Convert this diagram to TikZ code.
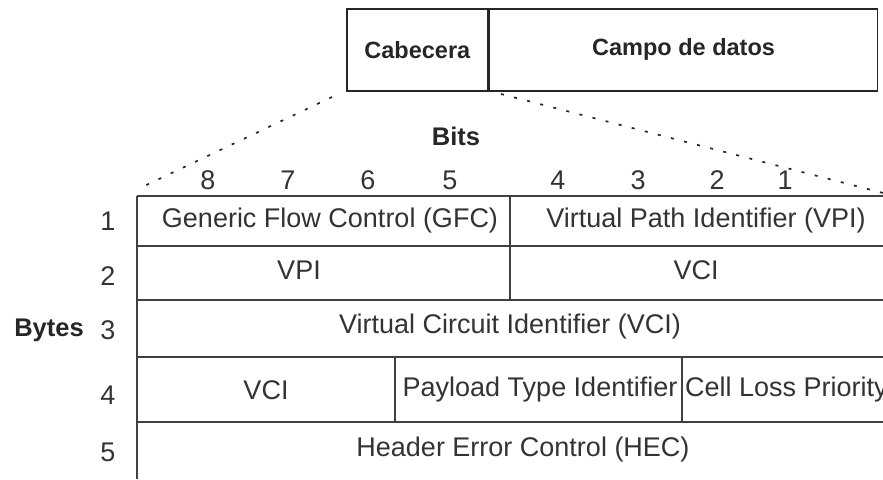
\documentclass[tikz,border=0pt]{standalone}
\usepackage{fontspec}
\setmainfont{Liberation Sans}
\newfontfamily\cellfont{Liberation Sans}
\begin{document}
\begin{tikzpicture}[x=1pt,y=-1pt,
  rule/.style={draw=black!75,line width=1.8pt},
  divider/.style={draw=black!75,line width=1.4pt},
  framebox/.style={draw=black!85,line width=1.7pt,inner sep=0pt,
    font=\bfseries\fontsize{23.5}{27}\selectfont,text=black!85},
  celltext/.style={font=\cellfont\fontsize{27}{32}\selectfont,text=black!80,inner sep=0pt},
  headtext/.style={font=\bfseries\fontsize{25.5}{30}\selectfont,text=black!85,inner sep=0pt},
  dots/.style={draw=black!85,line width=1.7pt,dash pattern=on 3pt off 10.5pt}]
\useasboundingbox (0,0) rectangle (883,479);

% cell frame: header and payload
\node[framebox,minimum width=141pt,minimum height=82pt,anchor=north west] (cab) at (346,8) {Cabecera};
\node[framebox,minimum width=388pt,minimum height=82pt,anchor=north west] (datos) at (cab.north east) {Campo de datos};

% zoom guides from the header to the table
\coordinate (zl0) at (332,97);
\coordinate (zl1) at (138,189);
\coordinate (zr0) at (501,94);
\coordinate (zr1) at (883,193);
\draw[dots] (zl0) -- (zl1);
\draw[dots] (zr0) -- (zr1);

% axis labels
\node[headtext] (bits) at (456,136) {Bits};
\node[headtext] (bytes) at (49,330) {Bytes};
\foreach \b/\x in {8/208,7/288,6/368,5/450,4/558,3/638,2/717,1/785}
  \node[celltext] (bit\b) at (\x,180) {\b};
\foreach \r/\y in {1/221,2/276,3/330,4/395,5/452}
  \node[celltext] (byte\r) at (108,\y) {\r};

% table rules
\coordinate (tl) at (137,196);
\coordinate (bl) at (137,479);
\draw[rule] (tl) -- (bl);
\foreach \y in {196,246,300,357,422}
  \draw[rule] (137,\y) -- (883,\y);
\draw[divider] (510,196) -- (510,300);
\draw[divider] (395,357) -- (395,422);
\draw[divider] (682,357) -- (682,422);

% header fields
\node[celltext] (gfc) at (330,221) {Generic Flow Control (GFC)};
\node[celltext] (vpi1) at (706,221) {Virtual Path Identifier (VPI)};
\node[celltext] (vpi2) at (299,270) {VPI};
\node[celltext] (vci2) at (696,270) {VCI};
\node[celltext] (vci3) at (510,327) {Virtual Circuit Identifier (VCI)};
\node[celltext] (vci4) at (266,390) {VCI};
\node[celltext] (pti) at (540,390) {Payload Type Identifier};
\node[celltext,anchor=west] (clp) at (685,390) {Cell Loss Priority};
\node[celltext] (hec) at (523,450) {Header Error Control (HEC)};
\end{tikzpicture}
\end{document}
